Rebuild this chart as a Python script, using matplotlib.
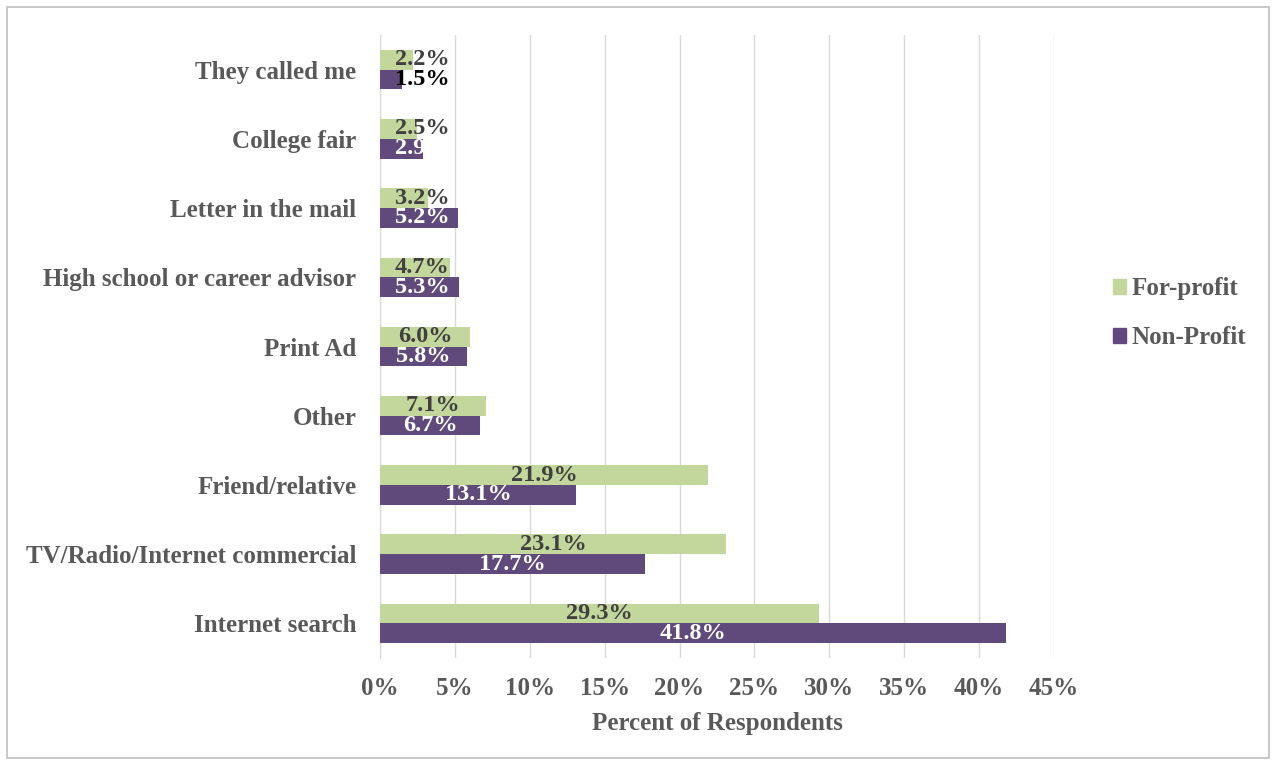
import matplotlib
matplotlib.use("Agg")
import matplotlib.pyplot as plt
from matplotlib.patches import Rectangle
import numpy as np

categories = ["Internet search", "TV/Radio/Internet commercial", "Friend/relative", "Other",
              "Print Ad", "High school or career advisor", "Letter in the mail",
              "College fair", "They called me"]
for_profit = [29.3, 23.1, 21.9, 7.1, 6.0, 4.7, 3.2, 2.5, 2.2]
non_profit = [41.8, 17.7, 13.1, 6.7, 5.8, 5.3, 5.2, 2.9, 1.5]
xticks = [0, 5, 10, 15, 20, 25, 30, 35, 40, 45]

plt.rcParams['font.family'] = ['Liberation Serif', 'DejaVu Serif']
plt.rcParams['font.weight'] = 'bold'

fig = plt.figure(figsize=(12.76, 7.65), dpi=100)
ax = fig.add_axes([380/1276, 1-658/765, (1054-380)/1276, (658-35)/765])

green = "#c3d69b"
purple = "#604a7b"
y = np.arange(len(categories))
h = 0.285
ax.barh(y + h/2, for_profit, height=h, color=green, zorder=3)
ax.barh(y - h/2, non_profit, height=h, color=purple, zorder=3)

fs = 18
lfs = 17.5
for i, (fp, npv) in enumerate(zip(for_profit, non_profit)):
    xf = max(fp/2, 2.8)
    ax.text(xf, i + h/2, f"{fp:.1f}%", ha='center', va='center', fontsize=lfs,
            fontweight='bold', color='#404040', zorder=4)
    xn = max(npv/2, 2.8)
    col = 'black' if npv < 2 else 'white'
    ax.text(xn, i - h/2, f"{npv:.1f}%", ha='center', va='center', fontsize=lfs,
            fontweight='bold', color=col, zorder=4)

ax.set_xlim(0, 45)
ax.set_ylim(-0.5, len(categories) - 0.5)
ax.set_xticks(xticks)
ax.set_xticklabels([f"{t}%" for t in xticks], fontsize=fs, fontweight='bold', color='#595959')
ax.set_yticks(y)
ax.set_yticklabels(categories, fontsize=fs, fontweight='bold', color='#595959')
ax.tick_params(axis='both', length=0)
ax.tick_params(axis='y', pad=17)
ax.tick_params(axis='x', pad=14)
ax.grid(axis='x', color='#d9d9d9', linewidth=1, zorder=0)
for s in ['top', 'right', 'bottom']:
    ax.spines[s].set_visible(False)
ax.spines['left'].set_color('#d9d9d9')
ax.set_xlabel("Percent of Respondents", fontsize=fs, fontweight='bold', color='#595959', labelpad=8)

handles = [Rectangle((0, 0), 1, 1, color=green), Rectangle((0, 0), 1, 1, color=purple)]
leg = fig.legend(handles, ["For-profit", "Non-Profit"], loc='center left',
                 bbox_to_anchor=(1090/1276, 1-313/765), frameon=False,
                 prop={'size': fs, 'weight': 'bold'}, handlelength=0.55, handleheight=0.55,
                 handletextpad=0.2, labelspacing=1.05, labelcolor='#595959')

fig.patches.append(Rectangle((7/1276, 7/765), 1262/1276, 751/765, transform=fig.transFigure,
                             fill=False, edgecolor='#bfbfbf', linewidth=1.2))

fig.savefig("out.png", dpi=100)
